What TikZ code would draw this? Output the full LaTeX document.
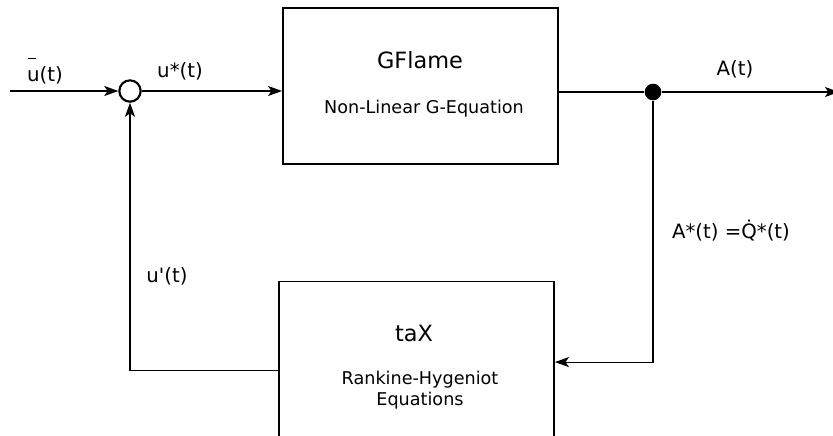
\documentclass[tikz,border=0pt]{standalone}
\usepackage{fontspec}
\setmainfont{DejaVu Sans}
\usetikzlibrary{arrows.meta, calc, positioning}
\tikzset{
  blockbox/.style  = {draw, line width=1.4pt, minimum width=206.25pt, inner sep=0pt},
  sumnode/.style   = {circle, draw, line width=1.6pt, minimum size=16pt, inner sep=0pt},
  splitdot/.style  = {circle, fill=black, minimum size=12.5pt, inner sep=0pt},
  flow/.style      = {-{Stealth[length=10.5pt, width=7.5pt, inset=2.5pt]}, line width=0.8pt},
  sig/.style       = {line width=0.8pt},
  ttl/.style       = {anchor=base, font=\fontsize{16.8}{20}\selectfont},
  subttl/.style    = {anchor=base, font=\fontsize{13.2}{16}\selectfont},
  lbl/.style       = {anchor=base, font=\fontsize{14.8}{18}\selectfont},
}
% mean value: short bar set high over the u
\newcommand{\ubar}{\rlap{\hspace{0.06em}\rule[1.1em]{0.38em}{1.2pt}}u}

\begin{document}
\begin{tikzpicture}[x=0.75pt,y=-0.75pt]
  \useasboundingbox (0,0) rectangle (833,436);
  % blocks
  \node[blockbox, minimum height=117pt] (gflame) at (420.5,86) {};
  \node[ttl] (gflametitle) at (420,68) {GFlame};
  \node[subttl] (gflamesub) at (424,113) {Non-Linear G-Equation};
  \node[blockbox, minimum height=150pt] (tax) at (416.5,381.5) {};
  \node[ttl] (taxtitle) at (414,341) {taX};
  \node[subttl] (taxeq1) at (420,384) {Rankine-Hygeniot};
  \node[subttl] (taxeq2) at (420,405) {Equations};
  % junctions and free ends
  \node[sumnode] (sum) at (130,91) {};
  \node[splitdot] (split) at (653,92) {};
  \coordinate (uin) at (10,91);
  \coordinate (aout) at (839,92);
  \coordinate (fbin) at ($(tax.north east)+(0,81.5)$);
  \coordinate (fbout) at ($(tax.north west)+(0,90)$);
  % forward path
  \draw[flow] (uin) -- (sum.west);
  \draw[flow] (sum.east) -- (sum.east -| gflame.west);
  \draw[sig] (split -| gflame.east) -- (split);
  \draw[flow] (split) -- (aout);
  % feedback through taX
  \draw[flow] (split) |- (fbin);
  \draw[flow] (fbout) -| (sum.south);
  % signal labels
  \node[lbl] (ubarlbl) at (45,81) {\ubar(t)};
  \node[lbl] (ustarlbl) at (180,77) {u*(t)};
  \node[lbl] (aoutlbl) at (735,75) {A(t)};
  \node[lbl] (afblbl) at (731,238) {A*(t) =\.{Q}*(t)};
  \node[lbl] (uprimelbl) at (167,282) {u\textquotesingle(t)};
\end{tikzpicture}
\end{document}
